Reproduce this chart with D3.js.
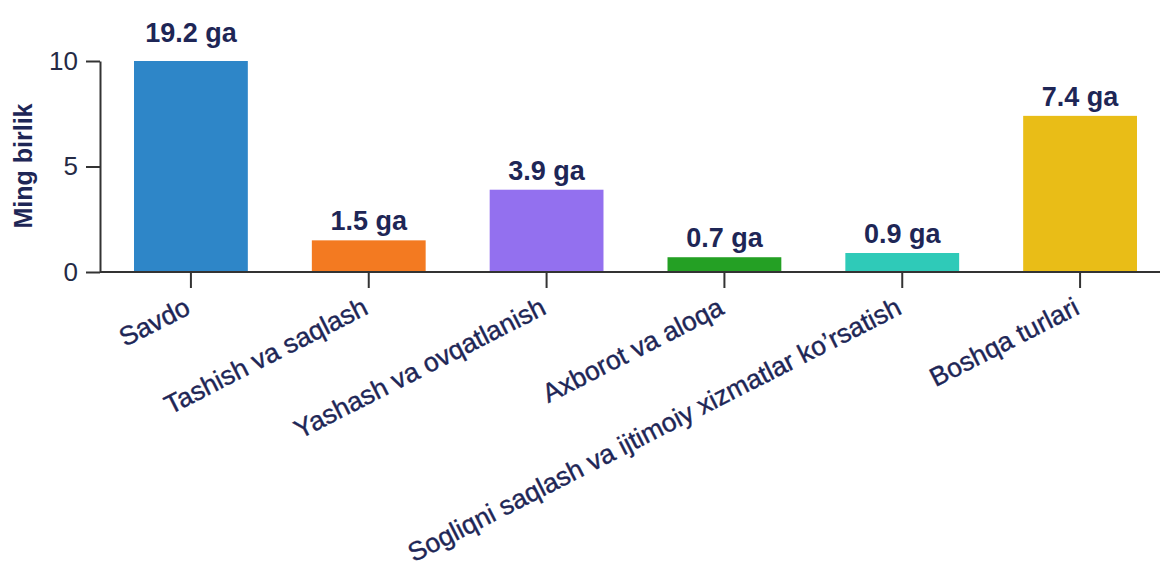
<!DOCTYPE html>
<html><head><meta charset="utf-8">
<script src="https://cdn.jsdelivr.net/npm/d3@7"></script>
<style>body{margin:0;background:#fff}svg{display:block}</style>
</head><body>
<svg id="c" width="1160" height="572"></svg>
<script>
const categories = ["Savdo","Tashish va saqlash","Yashash va ovqatlanish","Axborot va aloqa","Sogliqni saqlash va ijtimoiy xizmatlar ko\u2019rsatish","Boshqa turlari"];
const values = [19.2, 1.5, 3.9, 0.7, 0.9, 7.4];
const valueLabels = ["19.2 ga","1.5 ga","3.9 ga","0.7 ga","0.9 ga","7.4 ga"];
const colors = ["#2e86c8","#f37a21","#9370ef","#24a024","#2fcab8","#e9bd17"];
const yTicks = [0,5,10];
const yTitle = "Ming birlik";

const svg = d3.select("#c");
const navy = "#1e2656";
const font = "Liberation Sans, Arial, sans-serif";
const x = d3.scaleBand().domain(categories).range([102,1169]).paddingInner(0.36).paddingOuter(0.18);
const yMax = 10;
const y = d3.scaleLinear().domain([0,yMax]).range([272,61]).clamp(true);

// bars
svg.selectAll("rect.bar").data(categories).join("rect")
  .attr("x", d=>x(d)).attr("width", x.bandwidth())
  .attr("y", (d,i)=>y(values[i])).attr("height", (d,i)=>y(0)-y(values[i]))
  .attr("fill", (d,i)=>colors[i]);

// value labels
svg.selectAll("text.val").data(categories).join("text")
  .attr("x", d=>x(d)+x.bandwidth()/2).attr("y", (d,i)=>y(values[i]) - (values[i] > yMax ? 19 : 10))
  .attr("text-anchor","middle").attr("font-family",font).attr("font-weight","bold")
  .attr("font-size",27).attr("fill",navy).text((d,i)=>valueLabels[i]);

// y axis
const ya = svg.append("g").attr("transform","translate(100,0)")
  .call(d3.axisLeft(y).tickValues(yTicks).tickSize(14).tickSizeOuter(0).tickPadding(8));
ya.selectAll("path,line").attr("stroke","#333").attr("stroke-width",2);
ya.selectAll("text").attr("font-family",font).attr("font-size",26).attr("fill","#252a45");

// x axis
const xa = svg.append("g").attr("transform","translate(0,272)")
  .call(d3.axisBottom(x).tickSize(16).tickSizeOuter(0).tickFormat(""));
xa.select("path").attr("d","M100,0H1160");
xa.selectAll("path,line").attr("stroke","#333").attr("stroke-width",2);

// category labels
svg.selectAll("text.cat").data(categories).join("text")
  .attr("transform", d=>`translate(${x(d)+x.bandwidth()/2+1},313) rotate(-27)`)
  .attr("text-anchor","end").attr("font-family",font).attr("font-size",26.5)
  .attr("fill",navy).attr("stroke",navy).attr("stroke-width",0.4).text(d=>d);

// y title
svg.append("text").attr("transform","translate(32,166) rotate(-90)")
  .attr("text-anchor","middle").attr("font-family",font).attr("font-weight","bold")
  .attr("font-size",25).attr("fill",navy).text(yTitle);
</script>
</body></html>
